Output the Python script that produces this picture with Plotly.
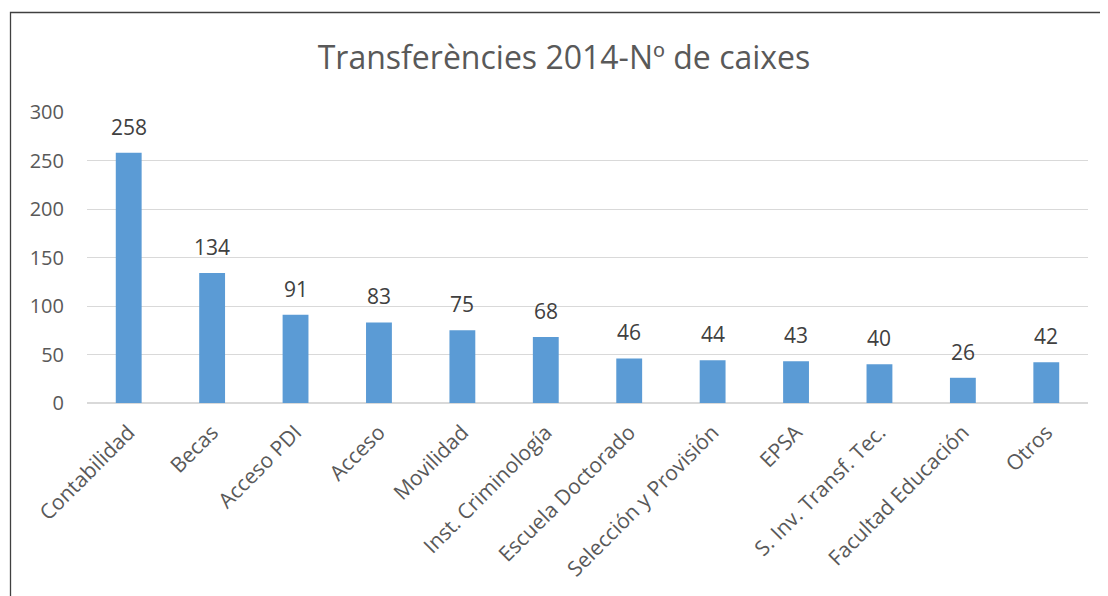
import plotly.graph_objects as go

categories = ["Contabilidad", "Becas", "Acceso PDI", "Acceso", "Movilidad",
              "Inst. Criminología", "Escuela Doctorado", "Selección y Provisión",
              "EPSA", "S. Inv. Transf. Tec.", "Facultad Educación", "Otros"]
values = [258, 134, 91, 83, 75, 68, 46, 44, 43, 40, 26, 42]
y_ticks = [0, 50, 100, 150, 200, 250, 300]

FONT = "Open Sans"
OFF = 8  # page body margin
W, H = 1108 - OFF, 596 - OFF
ml, mr, mt, mb = 87 - OFF, 20, 112 - OFF, 193
pw, ph = W - ml - mr, H - mt - mb

fig = go.Figure(go.Bar(
    x=categories, y=values,
    marker=dict(color="#5B9BD5", line=dict(width=0)),
    width=0.31,
))

for c, v in zip(categories, values):
    fig.add_annotation(x=c, y=v, text=str(v), showarrow=False,
                       yanchor="bottom", yshift=10,
                       font=dict(family=FONT, size=21, color="#404040"))

# outer chart border (top and left visible)
fig.add_shape(type="rect", xref="paper", yref="paper",
              x0=(10.5 - OFF - ml) / pw, x1=(W + 20 - ml) / pw,
              y0=-(mb + 20) / ph, y1=((H - mb) - (12.5 - OFF)) / ph,
              line=dict(color="#404040", width=1.3), layer="below")

fig.update_layout(
    width=W, height=H,
    margin=dict(l=ml, r=mr, t=mt, b=mb, autoexpand=False),
    paper_bgcolor="white", plot_bgcolor="white",
    title=dict(text="Transferències 2014-Nº de caixes", x=(564 - OFF) / W, xanchor="center",
               y=1 - (58 - OFF) / H, yanchor="middle",
               font=dict(family=FONT, size=32, color="#595959")),
    showlegend=False,
    xaxis=dict(tickangle=-45, tickfont=dict(family=FONT, size=21, color="#595959"),
               showline=False, ticks="", showgrid=False, ticklabelstandoff=12),
    yaxis=dict(range=[0, 300], tickvals=y_ticks, showgrid=True, gridcolor="#D9D9D9",
               gridwidth=1.3, zeroline=True, zerolinecolor="#D9D9D9", zerolinewidth=2,
               ticks="", ticklabelstandoff=22,
               tickfont=dict(family=FONT, size=20, color="#595959")),
)

fig.write_html("out.html")
